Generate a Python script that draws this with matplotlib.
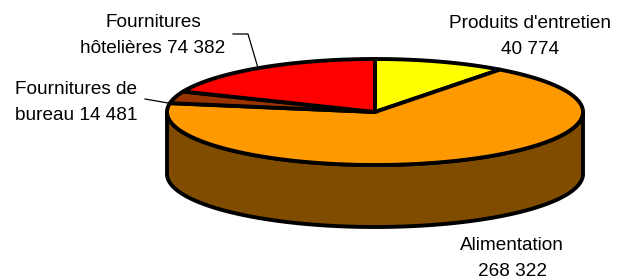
import numpy as np
import matplotlib.pyplot as plt
from matplotlib.patches import Polygon

plt.rcParams['font.family'] = ['Liberation Sans', 'DejaVu Sans']

# data, in drawing order (clockwise from 12 o'clock)
categories = ["Produits d'entretien", "Alimentation", "Fournitures de bureau", "Fournitures hôtelières"]
values = [40774, 268322, 14481, 74382]
colors = ["#FFFF00", "#FF9900", "#993300", "#FF0000"]
side_color = "#804C00"
# where each label wraps onto its second line
first_lines = ["Produits d'entretien", "Alimentation", "Fournitures de", "Fournitures"]

# label placement (centre x, first baseline y) in pixels
label_pos = [(530, 28), (512, 250), (76, 94), (153, 27)]
leaders = [None, None, [(145, 99), (168, 103)], [(233, 34), (248, 34), (258, 68)]]

fig = plt.figure(figsize=(6.2, 2.8), dpi=100)
ax = fig.add_axes([0, 0, 1, 1])
ax.set_xlim(0, 620)
ax.set_ylim(280, 0)
ax.axis('off')

cx, cy, a, b, depth = 375, 112, 208, 53, 62
lw = 2.8


def ell(theta):
    return cx + a * np.cos(theta), cy - b * np.sin(theta)


# side wall (front half of the cylinder)
th = np.linspace(np.pi, 2 * np.pi, 300)
xt, yt = ell(th)
wall = np.column_stack([np.r_[xt, xt[::-1]], np.r_[yt, yt[::-1] + depth]])
ax.add_patch(Polygon(wall, closed=True, fc=side_color, ec='black', lw=lw, joinstyle='round'))

# top face, slices clockwise from the top
total = sum(values)
start = 90.0
for val, col in zip(values, colors):
    sweep = 360.0 * val / total
    angs = np.radians(np.linspace(start, start - sweep, max(int(sweep * 2), 4)))
    xs, ys = ell(angs)
    pts = np.column_stack([np.r_[cx, xs], np.r_[cy, ys]])
    ax.add_patch(Polygon(pts, closed=True, fc=col, ec='black', lw=lw, joinstyle='round'))
    start -= sweep

# labels
for cat, val, first, (lx, ly) in zip(categories, values, first_lines, label_pos):
    full = f"{cat} {val:,}".replace(",", " ")
    second = full[len(first):].strip()
    ax.text(lx, ly, first, ha='center', va='baseline', fontsize=13.7)
    ax.text(lx, ly + 26, second, ha='center', va='baseline', fontsize=13.7)

for line in leaders:
    if line:
        xs, ys = zip(*line)
        ax.plot(xs, ys, color='black', lw=0.9)

fig.savefig('out.png', dpi=100)
